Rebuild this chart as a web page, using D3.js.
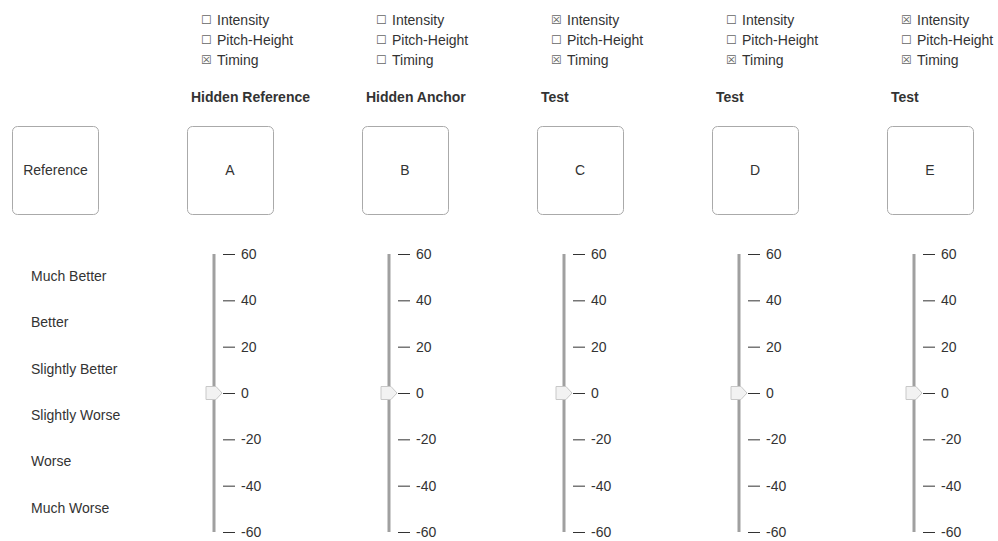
<!DOCTYPE html>
<html>
<head>
<meta charset="utf-8">
<script src="https://cdn.jsdelivr.net/npm/d3@7"></script>
<style>
  html, body { margin: 0; padding: 0; background: #fff; }
  svg { display: block; font-family: "Liberation Sans", Arial, sans-serif; }
</style>
</head>
<body>
<svg id="chart" width="998" height="541"></svg>
<script>
// ---- data ----
const conditions = ["A", "B", "C", "D", "E"];
const conditionTypes = ["Hidden Reference", "Hidden Anchor", "Test", "Test", "Test"];
const attributes = ["Intensity", "Pitch-Height", "Timing"];
const intensityChecked = [false, false, true, false, true];
const pitchChecked = [false, false, false, false, false];
const timingChecked = [true, false, true, true, true];
const sliderValues = [0, 0, 0, 0, 0];
const tickValues = [60, 40, 20, 0, -20, -40, -60];
const ratingLabels = ["Much Better", "Better", "Slightly Better", "Slightly Worse", "Worse", "Much Worse"];
const referenceLabel = "Reference";

// ---- layout ----
const svg = d3.select("#chart");
const textColor = "#333";
const fs = 14;
const colX = d3.scaleBand().domain(conditions).range([187, 187 + 175 * 5]);
const y = d3.scaleLinear().domain([60, -60]).range([254, 532]);
const boxW = 86, boxH = 88, boxY = 126;

// Reference box
const refG = svg.append("g");
refG.append("rect").attr("x", 12.5).attr("y", boxY + 0.5).attr("width", boxW).attr("height", boxH)
  .attr("rx", 5).attr("fill", "#fff").attr("stroke", "#aaa");
refG.append("text").attr("x", 12.5 + boxW / 2).attr("y", boxY + boxH / 2).attr("dy", "0.35em")
  .attr("text-anchor", "middle").attr("font-size", fs).attr("fill", textColor).text(referenceLabel);

// Rating labels (between ticks)
const ratingY = d3.scaleBand().domain(ratingLabels).range([y(60), y(-60)]);
svg.append("g").selectAll("text").data(ratingLabels).join("text")
  .attr("x", 31).attr("y", d => ratingY(d) + ratingY.bandwidth() / 2 - 1).attr("dy", "0.35em")
  .attr("font-size", fs).attr("fill", textColor).text(d => d);

const checks = [intensityChecked, pitchChecked, timingChecked];

conditions.forEach((c, i) => {
  const x0 = colX(c);
  const g = svg.append("g");

  // checkboxes
  attributes.forEach((a, j) => {
    const cy = 20 + j * 20;
    g.append("text").attr("x", x0 + 14).attr("y", cy).attr("dy", "0.35em")
      .attr("font-family", "DejaVu Sans").attr("font-size", 12).attr("fill", "#666")
      .text(checks[j][i] ? "\u2612" : "\u2610");
    g.append("text").attr("x", x0 + 30).attr("y", cy).attr("dy", "0.35em")
      .attr("font-size", fs).attr("fill", textColor).text(a);
  });

  // header
  g.append("text").attr("x", x0 + 4).attr("y", 97).attr("dy", "0.35em")
    .attr("font-size", 14).attr("font-weight", "bold").attr("fill", textColor).text(conditionTypes[i]);

  // box
  g.append("rect").attr("x", x0 + 0.5).attr("y", boxY + 0.5).attr("width", boxW).attr("height", boxH)
    .attr("rx", 5).attr("fill", "#fff").attr("stroke", "#aaa");
  g.append("text").attr("x", x0 + boxW / 2).attr("y", boxY + boxH / 2).attr("dy", "0.35em")
    .attr("text-anchor", "middle").attr("font-size", fs).attr("fill", textColor).text(c);

  // slider track
  const tx = x0 + 27;
  g.append("line").attr("x1", tx).attr("x2", tx).attr("y1", y(60)).attr("y2", y(-60))
    .attr("stroke", "#a0a0a0").attr("stroke-width", 3);

  // axis
  const axis = d3.axisRight(y).tickValues(tickValues).tickSize(12).tickPadding(6).tickFormat(d => String(d));
  const ag = g.append("g").attr("transform", `translate(${x0 + 36},0)`).call(axis);
  ag.select(".domain").remove();
  ag.selectAll("line").attr("stroke", "#333");
  ag.selectAll("text").attr("font-size", fs).attr("fill", textColor)
    .attr("font-family", "Liberation Sans, Arial, sans-serif");

  // thumb
  const vy = y(sliderValues[i]);
  const left = x0 + 19;
  g.append("path")
    .attr("d", `M${left},${vy - 6.5}H${left + 10}L${left + 16},${vy}L${left + 10},${vy + 6.5}H${left}Z`)
    .attr("fill", "#f2f2f2").attr("stroke", "#c8c8c8");
});
</script>
</body>
</html>
